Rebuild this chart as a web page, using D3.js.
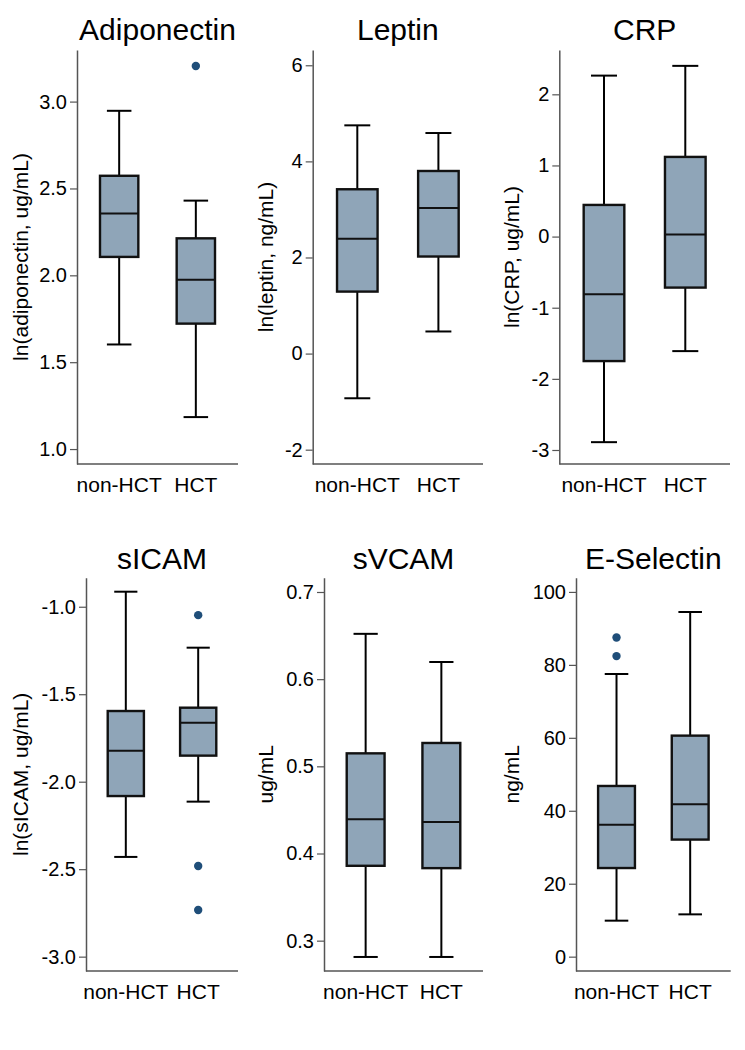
<!DOCTYPE html>
<html>
<head>
<meta charset="utf-8">
<script src="https://cdn.jsdelivr.net/npm/d3@7"></script>
<style>
  html, body { margin: 0; padding: 0; background: #fff; }
  svg { display: block; font-family: "Liberation Sans", Arial, sans-serif; }
</style>
</head>
<body>
<svg id="chart" width="745" height="1050"></svg>
<script>
// ---------- data ----------
const groups = ["non-HCT", "HCT"];
const titles = ["Adiponectin", "Leptin", "CRP", "sICAM", "sVCAM", "E-Selectin"];
const yTitles = ["ln(adiponectin, ug/mL)", "ln(leptin, ng/mL)", "ln(CRP, ug/mL)",
                 "ln(sICAM, ug/mL)", "ug/mL", "ng/mL"];
const yDomains = [[0.914, 3.297], [-2.298, 6.318], [-3.197, 2.623],
                  [-3.082, -0.834], [0.2652, 0.7164], [-3.93, 103.9]];
const yTicks = [[1.0, 1.5, 2.0, 2.5, 3.0], [-2, 0, 2, 4, 6], [-3, -2, -1, 0, 1, 2],
                [-3.0, -2.5, -2.0, -1.5, -1.0], [0.3, 0.4, 0.5, 0.6, 0.7], [0, 20, 40, 60, 80, 100]];
const tickFormats = [".1f", "d", "d", ".1f", ".1f", "d"];
// per panel: [non-HCT, HCT]
const whiskerLow  = [[1.602, 1.184], [-0.93, 0.46], [-2.89, -1.61], [-2.43, -2.114], [0.2813, 0.2813], [9.87, 11.6]];
const q1          = [[2.106, 1.722], [1.29, 2.02], [-1.75, -0.717], [-2.082, -1.851], [0.3859, 0.3832], [24.3, 32.1]];
const median      = [[2.356, 1.975], [2.39, 3.03], [-0.81, 0.028], [-1.823, -1.663], [0.4392, 0.4361], [36.2, 41.8]];
const q3          = [[2.573, 2.213], [3.42, 3.80], [0.445, 1.12], [-1.596, -1.577], [0.5149, 0.5268], [46.8, 60.6]];
const whiskerHigh = [[2.947, 2.43], [4.75, 4.59], [2.263, 2.40], [-0.914, -1.234], [0.652, 0.6197], [77.5, 94.5]];
const outliers    = [[[], [3.205]], [[], []], [[], []], [[], [-1.048, -2.482, -2.733]],
                     [[], []], [[87.5, 82.4], []]];

// ---------- layout ----------
const layout = [
  { left: 77,    right: 238,   top: 50,    bottom: 464, titleY: 40,  yTitleX: 20 },
  { left: 312.7, right: 483,   top: 50,    bottom: 464, titleY: 40,  yTitleX: 265 },
  { left: 559.3, right: 730,   top: 50,    bottom: 464, titleY: 40,  yTitleX: 511.7 },
  { left: 86,    right: 238,   top: 577.7, bottom: 971, titleY: 569, yTitleX: 20.7 },
  { left: 324,   right: 483,   top: 577.7, bottom: 971, titleY: 569, yTitleX: 265 },
  { left: 576,   right: 730.7, top: 577.7, bottom: 971, titleY: 569, yTitleX: 511.7 }
];
const boxFill = "#8fa5b8";
const dotFill = "#1f4e79";
const axisColor = "#555";

const locale = d3.formatLocale({ decimal: ".", thousands: ",", grouping: [3], currency: ["", ""], minus: "-" });

const svg = d3.select("#chart");

titles.forEach((title, i) => {
  const L = layout[i];
  const g = svg.append("g");

  const x = d3.scalePoint().domain(groups).range([L.left, L.right]).padding(0.55);
  const y = d3.scaleLinear().domain(yDomains[i]).range([L.bottom, L.top]);
  const step = x.step();
  const bw = step * 0.5;
  const cw = step * 0.32;

  // y axis
  const yAxis = d3.axisLeft(y).tickValues(yTicks[i]).tickFormat(locale.format(tickFormats[i]))
    .tickSizeInner(7).tickSizeOuter(0).tickPadding(3);
  const ya = g.append("g").attr("transform", `translate(${L.left},0)`).call(yAxis);
  ya.attr("font-size", null).attr("font-family", null);
  ya.select(".domain").attr("stroke", axisColor).attr("stroke-width", 1.5);
  ya.selectAll(".tick line").attr("stroke", axisColor).attr("stroke-width", 1.2);
  ya.selectAll(".tick text").attr("fill", "#000").style("font-size", "20px");

  // x axis line
  g.append("line").attr("x1", L.left).attr("x2", L.right)
    .attr("y1", L.bottom).attr("y2", L.bottom)
    .attr("stroke", axisColor).attr("stroke-width", 1.5);

  // category labels
  g.selectAll(".cat").data(groups).join("text")
    .attr("x", d => x(d)).attr("y", L.bottom + 28)
    .attr("text-anchor", "middle").style("font-size", "21px").attr("fill", "#000")
    .text(d => d);

  // title
  g.append("text").attr("x", (L.left + L.right) / 2).attr("y", L.titleY)
    .attr("text-anchor", "middle").style("font-size", "30px").attr("fill", "#000")
    .text(title);

  // y title
  g.append("text")
    .attr("transform", `translate(${L.yTitleX},${(L.top + L.bottom) / 2}) rotate(-90)`)
    .attr("text-anchor", "middle").attr("dominant-baseline", "central")
    .style("font-size", "21px").attr("fill", "#000")
    .text(yTitles[i]);

  // boxes
  groups.forEach((grp, j) => {
    const cx = x(grp);
    const bg = g.append("g");
    // whiskers
    bg.append("line").attr("x1", cx).attr("x2", cx)
      .attr("y1", y(whiskerHigh[i][j])).attr("y2", y(q3[i][j]))
      .attr("stroke", "#000").attr("stroke-width", 2);
    bg.append("line").attr("x1", cx).attr("x2", cx)
      .attr("y1", y(q1[i][j])).attr("y2", y(whiskerLow[i][j]))
      .attr("stroke", "#000").attr("stroke-width", 2);
    // caps
    [whiskerHigh[i][j], whiskerLow[i][j]].forEach(v => {
      bg.append("line").attr("x1", cx - cw / 2).attr("x2", cx + cw / 2)
        .attr("y1", y(v)).attr("y2", y(v))
        .attr("stroke", "#000").attr("stroke-width", 2);
    });
    // box
    bg.append("rect").attr("x", cx - bw / 2).attr("width", bw)
      .attr("y", y(q3[i][j])).attr("height", y(q1[i][j]) - y(q3[i][j]))
      .attr("fill", boxFill).attr("stroke", "#111").attr("stroke-width", 2.4);
    // median
    bg.append("line").attr("x1", cx - bw / 2).attr("x2", cx + bw / 2)
      .attr("y1", y(median[i][j])).attr("y2", y(median[i][j]))
      .attr("stroke", "#111").attr("stroke-width", 2);
    // outliers
    bg.selectAll("circle").data(outliers[i][j]).join("circle")
      .attr("cx", cx).attr("cy", d => y(d)).attr("r", 4.2).attr("fill", dotFill);
  });
});
</script>
</body>
</html>
